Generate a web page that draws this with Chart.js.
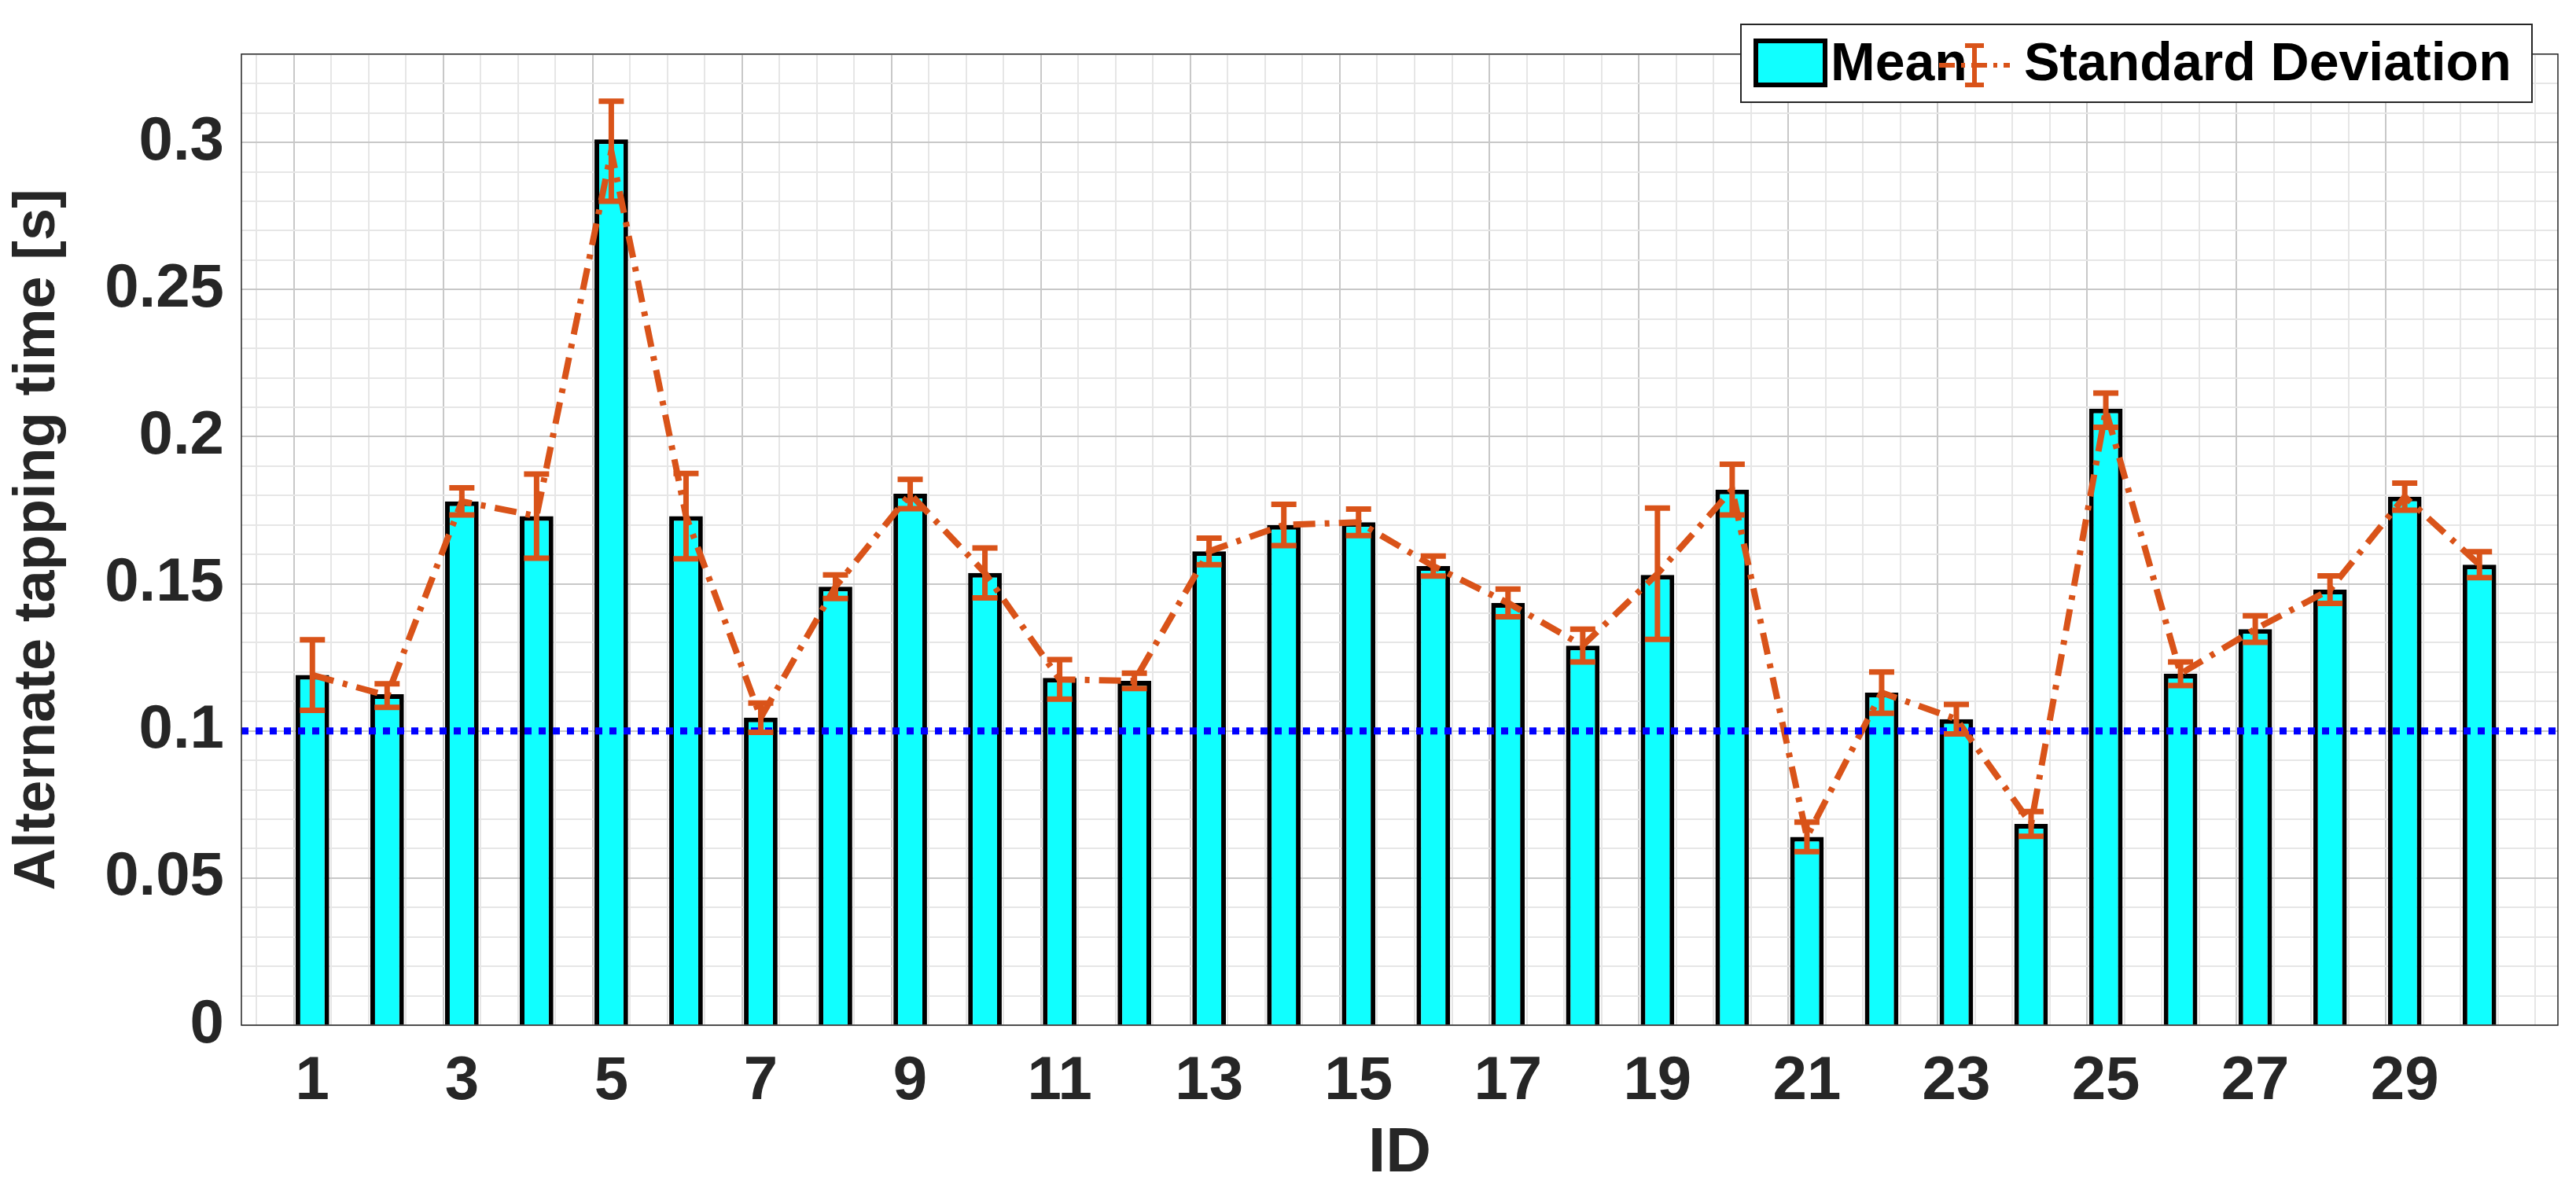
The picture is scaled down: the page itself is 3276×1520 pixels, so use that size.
<!DOCTYPE html>
<html><head><meta charset="utf-8">
<script src="https://cdn.jsdelivr.net/npm/chart.js@4/dist/chart.umd.min.js"></script>
<style>html,body{margin:0;padding:0;background:#fff}#w{width:3276px;height:1520px}</style>
</head><body><div id="w"><canvas id="c" width="3276" height="1520"></canvas></div>
<script>
const ids = [1,2,3,4,5,6,7,8,9,10,11,12,13,14,15,16,17,18,19,20,21,22,23,24,25,26,27,28,29,30];
const means = [0.119,0.1125,0.178,0.173,0.301,0.173,0.1045,0.149,0.1806,0.1537,0.118,0.117,0.161,0.170,0.1709,0.156,0.1435,0.129,0.153,0.182,0.064,0.113,0.104,0.0684,0.2095,0.1194,0.1346,0.148,0.1796,0.1565];
const sdCenters = [0.119,0.112,0.178,0.173,0.297,0.173,0.1045,0.149,0.1805,0.1537,0.1175,0.117,0.161,0.170,0.1709,0.156,0.1435,0.129,0.1534,0.182,0.064,0.113,0.104,0.0684,0.209,0.1194,0.1346,0.148,0.1796,0.1565];
const sdErr = [0.012,0.004,0.0046,0.0143,0.017,0.0145,0.005,0.004,0.005,0.0085,0.0067,0.0026,0.0045,0.007,0.0045,0.0034,0.0047,0.0056,0.0223,0.0086,0.005,0.007,0.005,0.0042,0.0058,0.004,0.0045,0.0047,0.0046,0.0044];
const threshold = 0.1;
const xTickLabels = [1,3,5,7,9,11,13,15,17,19,21,23,25,27,29];
const yTickLabels = [0,0.05,0.1,0.15,0.2,0.25,0.3];

const ORANGE = '#D95319', TXT = '#262626', FONT = '"Liberation Sans", Arial, sans-serif';
const isMaj = (v, arr) => typeof v === 'number' && arr.some(a => Math.abs(a - v) < 1e-6);
const gridCol = arr => ctx => (ctx && ctx.tick && isMaj(ctx.tick.value, arr)) ? '#c8c8c8' : '#e6e6e6';

const errPlugin = {
  id: 'err',
  afterDatasetsDraw(chart) {
    const {ctx, chartArea: ca} = chart;
    const x = chart.scales.x, y = chart.scales.y;
    ctx.save();
    ctx.beginPath(); ctx.rect(ca.left, ca.top, ca.right - ca.left, ca.bottom - ca.top); ctx.clip();
    ctx.strokeStyle = '#0000FF'; ctx.lineWidth = 9; ctx.setLineDash([9, 9]);
    const ty = y.getPixelForValue(threshold);
    ctx.beginPath(); ctx.moveTo(ca.left, ty); ctx.lineTo(ca.right, ty); ctx.stroke();
    ctx.setLineDash([]);
    ctx.strokeStyle = ORANGE; ctx.lineWidth = 7;
    ids.forEach((id, i) => {
      const px = x.getPixelForValue(id);
      const t = y.getPixelForValue(sdCenters[i] + sdErr[i]);
      const b = y.getPixelForValue(sdCenters[i] - sdErr[i]);
      ctx.beginPath();
      ctx.moveTo(px, t); ctx.lineTo(px, b);
      ctx.moveTo(px - 16, t); ctx.lineTo(px + 16, t);
      ctx.moveTo(px - 16, b); ctx.lineTo(px + 16, b);
      ctx.stroke();
    });
    ctx.restore();
    ctx.save(); ctx.strokeStyle = TXT; ctx.lineWidth = 1.5;
    ctx.strokeRect(ca.left, ca.top, ca.right - ca.left, ca.bottom - ca.top);
    ctx.restore();
    ctx.save();
    const L = 2214, T = 31, R = 3220, B = 130;
    ctx.fillStyle = '#fff'; ctx.fillRect(L, T, R - L, B - T);
    ctx.strokeStyle = TXT; ctx.lineWidth = 2; ctx.strokeRect(L, T, R - L, B - T);
    ctx.fillStyle = '#10FFFF'; ctx.strokeStyle = '#000'; ctx.lineWidth = 6;
    ctx.fillRect(2233, 52, 88, 56); ctx.strokeRect(2233, 52, 88, 56);
    ctx.fillStyle = '#000'; ctx.font = 'bold 68px ' + FONT; ctx.textBaseline = 'middle';
    ctx.fillText('Mean', 2328, 83);
    ctx.strokeStyle = ORANGE; ctx.lineWidth = 6; ctx.setLineDash([20, 8, 5, 8]);
    ctx.beginPath(); ctx.moveTo(2466, 83); ctx.lineTo(2556, 83); ctx.stroke();
    ctx.setLineDash([]);
    ctx.beginPath(); ctx.moveTo(2511, 58); ctx.lineTo(2511, 108);
    ctx.moveTo(2499, 58); ctx.lineTo(2523, 58); ctx.moveTo(2499, 108); ctx.lineTo(2523, 108); ctx.stroke();
    ctx.fillText('Standard Deviation', 2574, 83);
    ctx.restore();
  }
};

new Chart(document.getElementById('c'), {
  data: {
    datasets: [
      { type: 'bar', data: ids.map((v, i) => ({x: v, y: means[i]})), backgroundColor: '#10FFFF',
        borderColor: '#000', borderWidth: 6, barPercentage: 0.9, categoryPercentage: 1, order: 2 },
      { type: 'line', data: ids.map((v, i) => ({x: v, y: sdCenters[i]})), borderColor: ORANGE,
        borderWidth: 8, borderDash: [28, 12, 6, 12], pointRadius: 0, fill: false, order: 1 }
    ]
  },
  plugins: [errPlugin],
  options: {
    responsive: false, animation: false, devicePixelRatio: 1,
    layout: { padding: { top: 19, right: 23, left: 0, bottom: 0 } },
    plugins: { legend: { display: false }, tooltip: { enabled: false } },
    scales: {
      x: { type: 'linear', min: 0.05, max: 31.05, offset: false,
        afterBuildTicks(s) { const t = []; for (let k = 1; k <= 62; k++) t.push({value: k * 0.5}); s.ticks = t; },
        afterFit(s) { s.height = 216; },
        ticks: { autoSkip: false, maxRotation: 0, padding: 26, color: TXT, font: { family: FONT, weight: 'bold', size: 78 },
          callback: v => isMaj(v, xTickLabels) ? String(v) : '' },
        grid: { color: gridCol(xTickLabels), lineWidth: 2, drawTicks: false },
        border: { display: false },
        title: { display: true, text: 'ID', color: TXT, font: { family: FONT, weight: 'bold', size: 80 }, padding: { top: 0 } }
      },
      y: { type: 'linear', min: 0, max: 0.33,
        afterBuildTicks(s) { const t = []; for (let k = 0; k <= 33; k++) t.push({value: +(k * 0.01).toFixed(2)}); s.ticks = t; },
        afterFit(s) { s.width = 307; },
        ticks: { autoSkip: false, padding: 22, color: TXT, font: { family: FONT, weight: 'bold', size: 78 },
          callback: v => isMaj(v, yTickLabels) ? String(+v.toFixed(2)) : '' },
        grid: { color: gridCol(yTickLabels), lineWidth: 2, drawTicks: false },
        border: { display: false },
        title: { display: true, text: 'Alternate tapping time [s]', color: TXT, font: { family: FONT, weight: 'bold', size: 74 }, padding: { bottom: 8 } }
      }
    }
  }
});
</script></body></html>
